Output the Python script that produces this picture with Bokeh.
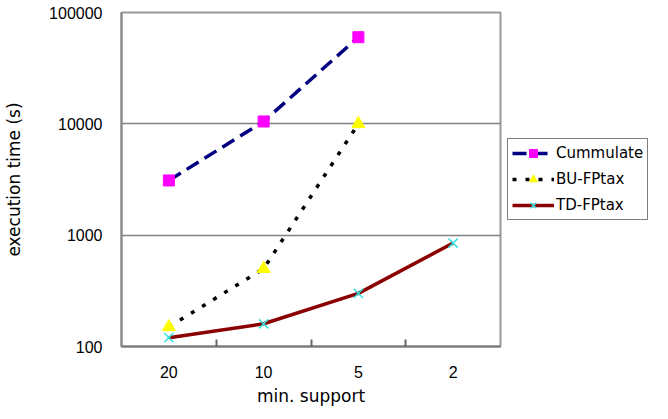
from bokeh.plotting import figure
from bokeh.models import FixedTicker, Legend, LegendItem, Range1d
from bokeh.embed import file_html
from bokeh.resources import INLINE

categories = ["20", "10", "5", "2"]
cummulate = [3100, 10500, 60000]
bu_fptax = [150, 500, 10000]
td_fptax = [120, 160, 300, 850]
y_ticks = [100, 1000, 10000, 100000]

xpos = list(range(1, len(categories) + 1))
NUMFONT = "Liberation Sans"
TXTFONT = "DejaVu Sans"

p = figure(frame_width=379, frame_height=334, y_axis_type="log", output_backend="svg",
           toolbar_location=None, x_range=Range1d(0.5, 4.5), y_range=Range1d(100, 100000),
           min_border_left=121, min_border_right=0, min_border_top=12, min_border_bottom=40)
p.background_fill_color = "white"
p.border_fill_color = "white"
p.outline_line_color = "#999999"
p.outline_line_width = 2

p.xgrid.visible = False
p.ygrid.grid_line_color = "#808080"
p.ygrid.grid_line_width = 1.5
p.ygrid.ticker = FixedTicker(ticks=y_ticks)

p.xaxis.ticker = FixedTicker(ticks=xpos, minor_ticks=[1.5, 2.5, 3.5])
p.xaxis.major_label_overrides = {x: c for x, c in zip(xpos, categories)}
p.xaxis.major_tick_line_color = None
p.xaxis.minor_tick_in = 7
p.xaxis.minor_tick_out = 0
p.xaxis.minor_tick_line_color = "#666666"
p.xaxis.minor_tick_line_width = 2
p.xaxis.axis_line_color = "#777777"
p.xaxis.axis_line_width = 2
p.xaxis.major_label_standoff = 13
p.xaxis.axis_label = "min. support"
p.xaxis.axis_label_standoff = 5

p.yaxis.ticker = FixedTicker(ticks=y_ticks)
p.yaxis.major_label_overrides = {v: str(v) for v in y_ticks}
p.yaxis.major_tick_line_color = None
p.yaxis.minor_tick_line_color = None
p.yaxis.axis_line_color = "#888888"
p.yaxis.axis_line_width = 2
p.yaxis.major_label_standoff = 13
p.yaxis.axis_label = "execution time (s)"
p.yaxis.axis_label_standoff = 22

for ax in (p.xaxis, p.yaxis):
    ax.major_label_text_font = NUMFONT
    ax.major_label_text_font_size = "16px"
    ax.major_label_text_color = "black"
    ax.axis_label_text_font = TXTFONT
    ax.axis_label_text_font_size = "17px"
    ax.axis_label_text_font_style = "normal"
    ax.axis_label_text_color = "black"

n1 = len(cummulate)
l1 = p.line(xpos[:n1], cummulate, line_color="#000080", line_width=3.5, line_dash="14 7")
m1 = p.scatter(xpos[:n1], cummulate, marker="square", size=11, fill_color="#FF00FF", line_color="#FF00FF")

n2 = len(bu_fptax)
l2 = p.line(xpos[:n2], bu_fptax, line_color="black", line_width=3.5, line_dash="4 9")
m2 = p.scatter(xpos[:n2], bu_fptax, marker="triangle", size=13, fill_color="#FFFF00", line_color="#FFFF00")

l3 = p.line(xpos, td_fptax, line_color="#8B0000", line_width=3.5)
m3 = p.scatter(xpos, td_fptax, marker="x", size=13, line_color="#33E0E0", line_width=1.5)

legend = Legend(items=[
    LegendItem(label="Cummulate", renderers=[l1, m1]),
    LegendItem(label="BU-FPtax", renderers=[l2, m2]),
    LegendItem(label="TD-FPtax", renderers=[l3, m3]),
], location="center_left")
legend.border_line_color = "black"
legend.border_line_width = 1.5
legend.label_text_font = TXTFONT
legend.label_text_font_size = "15px"
legend.label_text_color = "black"
legend.glyph_width = 42
legend.glyph_height = 20
legend.spacing = 6
legend.padding = 4
legend.margin = 7
legend.label_standoff = 2
legend.background_fill_color = "white"
p.add_layout(legend, "right")

open("out.html", "w").write(file_html(p, INLINE))
